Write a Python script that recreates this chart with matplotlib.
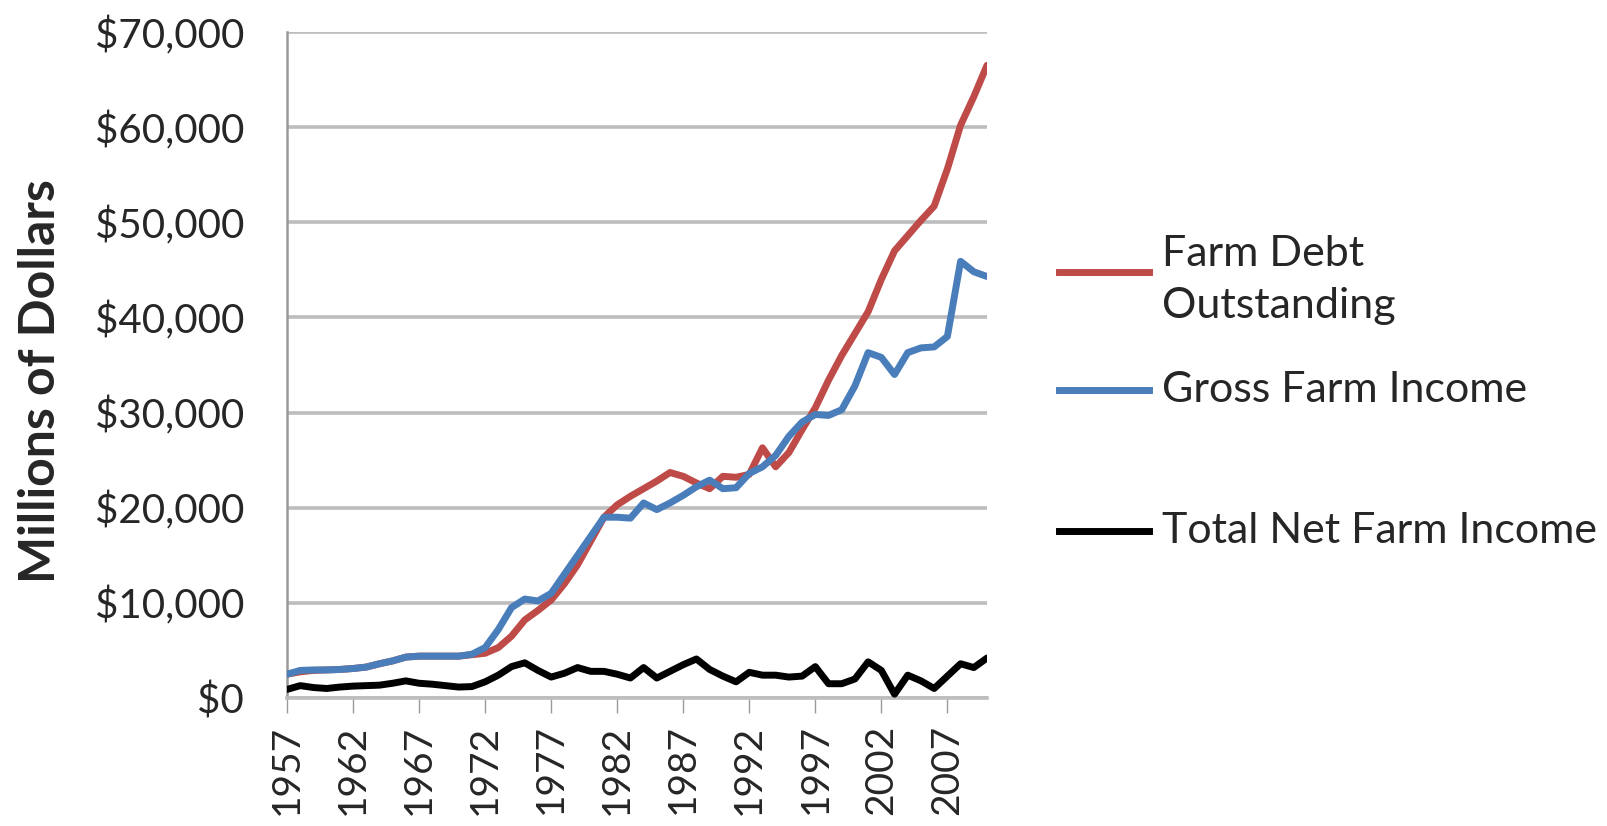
import matplotlib
matplotlib.use("Agg")
import matplotlib.pyplot as plt
from matplotlib.lines import Line2D
from matplotlib.ticker import FuncFormatter
import numpy as np

plt.rcParams['font.family'] = ['Lato', 'DejaVu Sans']

# ---- data ----
years = list(range(1957, 2011))

farm_debt = [2500, 2750, 2900, 2950, 3000, 3100, 3250, 3600, 3900, 4300,
             4400, 4400, 4400, 4400, 4550, 4700, 5300, 6500, 8200, 9200,
             10300, 12000, 14000, 16500, 19000, 20300, 21200, 22000, 22800, 23700,
             23300, 22600, 22000, 23300, 23200, 23500, 26300, 24300, 25800, 28200,
             30500, 33400, 36000, 38300, 40600, 44000, 47000, 48600, 50200, 51700,
             55600, 60200, 63200, 66500]

gross_income = [2500, 2900, 2950, 2950, 3000, 3100, 3250, 3600, 3900, 4300,
                4400, 4400, 4400, 4400, 4600, 5300, 7200, 9500, 10400, 10200,
                11000, 13000, 15000, 17000, 19000, 19000, 18900, 20500, 19800, 20500,
                21300, 22200, 22900, 22000, 22100, 23600, 24300, 25500, 27500, 29000,
                29800, 29700, 30300, 32800, 36300, 35800, 34000, 36300, 36800, 36900,
                38000, 45900, 44800, 44300]

net_income = [900, 1300, 1100, 1000, 1150, 1250, 1300, 1350, 1550, 1800,
              1550, 1450, 1300, 1150, 1200, 1700, 2400, 3300, 3700, 2900,
              2200, 2600, 3200, 2800, 2800, 2500, 2100, 3200, 2100, 2800,
              3500, 4100, 3000, 2300, 1700, 2700, 2400, 2400, 2200, 2300,
              3300, 1500, 1500, 2000, 3800, 2900, 400, 2400, 1800, 1000,
              2300, 3600, 3200, 4200]

series_names = ["Farm Debt\nOutstanding", "Gross Farm Income", "Total Net Farm Income"]
series_colors = ["#BE4B48", "#4A7EBB", "#000000"]
tick_years = list(range(1957, 2008, 5))
y_ticks = list(range(0, 70001, 10000))

# ---- figure ----
W, H = 1608, 826
fig = plt.figure(figsize=(W / 100, H / 100), dpi=100)
ax = fig.add_axes([287 / W, 1 - 698 / H, 700 / W, (698 - 32) / H])

lw = 5.0
for vals, col in zip([farm_debt, gross_income, net_income], series_colors):
    ax.plot(years, vals, color=col, lw=lw, solid_joinstyle='round',
            solid_capstyle='round', zorder=3)

ax.set_xlim(years[0], years[-1])
ax.set_ylim(0, 70000)
ax.set_yticks(y_ticks)
ax.yaxis.set_major_formatter(FuncFormatter(lambda v, p: "${:,.0f}".format(v)))
ax.set_xticks(tick_years)
ax.set_xticklabels([str(y) for y in tick_years])

ax.yaxis.grid(True, color='#bdbdbd', lw=2.6)
ax.xaxis.grid(False)
ax.set_axisbelow(True)
for s in ['top', 'right']:
    ax.spines[s].set_visible(False)
ax.spines['left'].set_color('#9a9a9a')
ax.spines['left'].set_linewidth(1.8)
ax.spines['bottom'].set_color('#bdbdbd')
ax.spines['bottom'].set_linewidth(2.6)

ax.tick_params(axis='y', length=0, pad=31, labelsize=29, labelcolor='#262626')
ax.tick_params(axis='x', length=11, width=1.0, color='#9a9a9a', pad=8,
               labelsize=28, labelcolor='#262626', labelrotation=90)

fig.text(41 / W, 1 - 381 / H, "Millions of Dollars", rotation=90,
         fontsize=36, fontweight='bold', color='#262626',
         ha='center', va='center')

# ---- legend (drawn manually to match spacing) ----
legend_y = [272, 390, 531]
text_y = [280, 390, 531]
for name, col, ly, ty in zip(series_names, series_colors, legend_y, text_y):
    fig.add_artist(Line2D([1059 / W, 1149 / W], [1 - ly / H, 1 - ly / H],
                          color=col, lw=lw, transform=fig.transFigure))
    fig.text(1162 / W, 1 - ty / H, name, fontsize=31, color='#262626',
             ha='left', va='center', linespacing=1.47)

fig.savefig("out.png", dpi=100)
